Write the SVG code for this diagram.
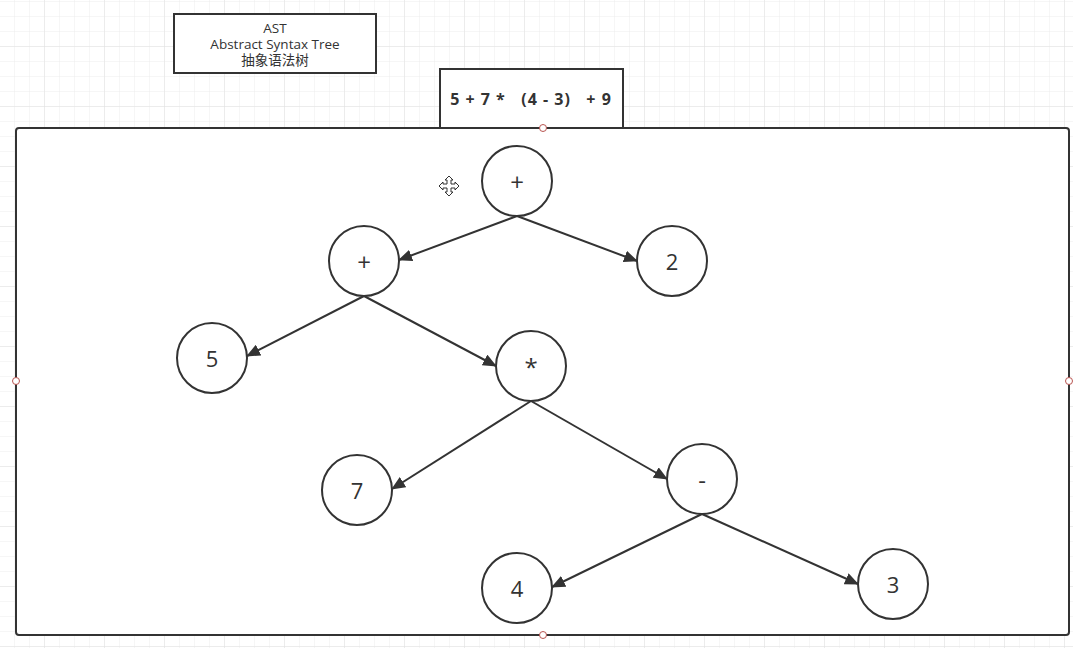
<svg xmlns="http://www.w3.org/2000/svg" width="1073" height="648" viewBox="0 0 1073 648">
<defs>
<pattern id="minor" width="15" height="15" patternUnits="userSpaceOnUse" x="0" y="2">
<path d="M15 0V15M0 15H15" fill="none" stroke="#ececec" stroke-width="1"/>
</pattern>
<pattern id="major" width="60" height="60" patternUnits="userSpaceOnUse" x="-15" y="-13">
<path d="M60 0V60M0 60H60" fill="none" stroke="#e2e2e2" stroke-width="1"/>
</pattern>
<marker id="arr" viewBox="0 0 14 12" refX="13" refY="6" markerWidth="14" markerHeight="12" markerUnits="userSpaceOnUse" orient="auto">
<path d="M0 0L14 6L0 12Z" fill="#333"/>
</marker>
<style>
.node circle{fill:#fff;stroke:#333;stroke-width:2}
.node text{font-family:"Open Sans","Noto Sans",sans-serif;fill:#333;text-anchor:middle;dominant-baseline:central}
.num{font-size:22px}
.op{font-size:24px;font-family:"Noto Sans",sans-serif}
.edge{stroke:#333;stroke-width:2;fill:none;marker-end:url(#arr)}
.box{fill:#fff;stroke:#333;stroke-width:2}
.handle{fill:#fff;stroke:#b85450;stroke-width:1}
.lbl{font-family:"Open Sans","Noto Sans","Noto Sans CJK SC",sans-serif;fill:#333;text-anchor:middle}
</style>
</defs>
<rect width="1073" height="648" fill="#fff"/>
<rect width="1073" height="648" fill="url(#minor)"/>
<rect width="1073" height="648" fill="url(#major)"/>

<g id="title">
<rect class="box" x="174" y="14" width="202" height="59"/>
<text class="lbl" x="275" y="33" font-size="13.5">AST</text>
<text class="lbl" x="275" y="49" font-size="13.5">Abstract Syntax Tree</text>
<text class="lbl" x="275" y="65" font-size="13.5">抽象语法树</text>
</g>

<g id="expression">
<rect class="box" x="440" y="69" width="183" height="60"/>
<text class="lbl" x="531" y="105" font-size="16" font-weight="bold" letter-spacing="1" xml:space="preserve">5 + 7 *   (4 - 3)   + 9</text>
</g>

<g id="container">
<rect x="16" y="128" width="1053" height="507" rx="3" fill="#fff" stroke="#333" stroke-width="2"/>
</g>

<g id="connectors">
<line class="edge" x1="517" y1="216" x2="399" y2="260"/>
<line class="edge" x1="517" y1="216" x2="637" y2="261"/>
<line class="edge" x1="364" y1="296" x2="247" y2="356"/>
<line class="edge" x1="364" y1="296" x2="496" y2="366"/>
<line class="edge" x1="531" y1="401" x2="392" y2="489"/>
<line class="edge" x1="531" y1="401" x2="667" y2="479"/>
<line class="edge" x1="702" y1="514" x2="552" y2="587"/>
<line class="edge" x1="702" y1="514" x2="858" y2="584"/>
</g>

<g id="n_plus_root" class="node"><circle cx="517" cy="181" r="35"/><text class="op" x="517" y="181">+</text></g>
<g id="n_plus_left" class="node"><circle cx="364" cy="261" r="35"/><text class="op" x="364" y="261">+</text></g>
<g id="n_2" class="node"><circle cx="672" cy="261" r="35"/><text class="num" x="672" y="261">2</text></g>
<g id="n_5" class="node"><circle cx="212" cy="358" r="35"/><text class="num" x="212" y="358">5</text></g>
<g id="n_mul" class="node"><circle cx="531" cy="366" r="35"/><text class="op" x="531" y="366">*</text></g>
<g id="n_7" class="node"><circle cx="357" cy="490" r="35"/><text class="num" x="357" y="490">7</text></g>
<g id="n_minus" class="node"><circle cx="702" cy="479" r="35"/><text class="op" x="702" y="479">-</text></g>
<g id="n_4" class="node"><circle cx="517" cy="588" r="35"/><text class="num" x="517" y="588">4</text></g>
<g id="n_3" class="node"><circle cx="893" cy="584" r="35"/><text class="num" x="893" y="584">3</text></g>

<g id="handles">
<circle class="handle" cx="543" cy="128" r="3.5"/>
<circle class="handle" cx="16" cy="381" r="3.5"/>
<circle class="handle" cx="1069" cy="381" r="3.5"/>
<circle class="handle" cx="543" cy="635" r="3.5"/>
</g>

<g id="cursor">
<path d="M449 176L453 180H451V184H455V182L459 186L455 190V188H451V192H453L449 196L445 192H447V188H443V190L439 186L443 182V184H447V180H445Z" fill="#fff" stroke="#333" stroke-width="1" stroke-linejoin="round"/>
</g>
</svg>
